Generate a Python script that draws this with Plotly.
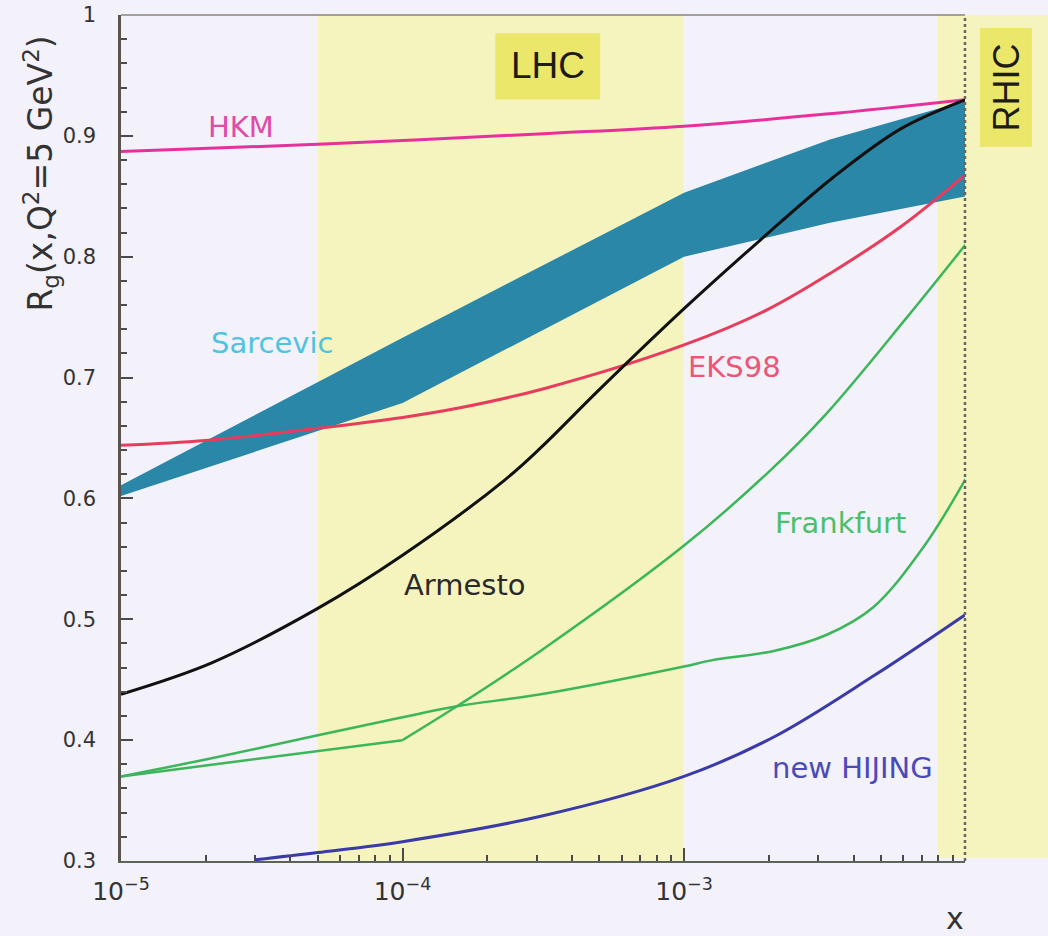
import numpy as np
import plotly.graph_objects as go

# ---- data: gluon shadowing ratio R_g(x, Q^2 = 5 GeV^2) ----
hkm_x = [1e-5, 5e-5, 3.3e-4, 1e-3, 3.2e-3, 1e-2]
hkm_y = [0.887, 0.893, 0.902, 0.908, 0.918, 0.930]

sarcevic_x = [1e-5, 1e-4, 1e-3, 3.3e-3, 1e-2]
sarcevic_hi = [0.611, 0.733, 0.853, 0.897, 0.929]
sarcevic_lo = [0.602, 0.679, 0.800, 0.828, 0.850]

eks98_x = [1e-5, 2e-5, 5e-5, 1e-4, 1.6e-4, 3.2e-4, 1e-3, 1.97e-3, 3.4e-3, 5.9e-3, 1e-2]
eks98_y = [0.644, 0.648, 0.658, 0.667, 0.675, 0.691, 0.727, 0.756, 0.788, 0.825, 0.868]

armesto_x = [1e-5, 2.1e-5, 5e-5, 1e-4, 2.3e-4, 3.1e-4, 5e-4, 1e-3, 1.87e-3, 3.4e-3, 5.9e-3, 1e-2]
armesto_y = [0.438, 0.464, 0.509, 0.553, 0.615, 0.642, 0.690, 0.757, 0.814, 0.866, 0.906, 0.930]

frank_a_x = [1e-5, 1e-4, 1.56e-4, 3.1e-4, 1e-3, 2e-3, 3.2e-3, 6.2e-3, 1e-2]
frank_a_y = [0.370, 0.400, 0.428, 0.474, 0.561, 0.622, 0.670, 0.750, 0.810]

frank_b_x = [1e-5, 2.1e-5, 5e-5, 1e-4, 1.56e-4, 3.1e-4, 1e-3, 1.25e-3, 2.1e-3,
             3.2e-3, 4.7e-3, 7.1e-3, 1e-2]
frank_b_y = [0.370, 0.385, 0.404, 0.419, 0.428, 0.438, 0.461, 0.466, 0.474,
             0.487, 0.510, 0.560, 0.616]

hijing_x = [3.0e-5, 5e-5, 1e-4, 3.1e-4, 1e-3, 2.1e-3, 4.7e-3, 1e-2]
hijing_y = [0.301, 0.307, 0.316, 0.337, 0.370, 0.403, 0.453, 0.504]

# kinematic windows
lhc_range = [5e-5, 1e-3]
rhic_start = 8e-3

# ---- styling ----
BG = "#f3f1fa"
BAND = "#f5f4be"
BOX = "#ebe76a"
LOGX = (-5, -2)
FONT = "DejaVu Sans"
INK = "#333333"


def xfrac(v):
    return (np.log10(v) - LOGX[0]) / (LOGX[1] - LOGX[0])


fig = go.Figure()

# Sarcevic band
fig.add_trace(go.Scatter(
    x=sarcevic_x + sarcevic_x[::-1],
    y=sarcevic_hi + sarcevic_lo[::-1],
    fill="toself", fillcolor="#2a87a8", mode="lines",
    line=dict(width=0, color="#2a87a8"), hoverinfo="skip", showlegend=False))

curves = [
    (hkm_x, hkm_y, "#e8309c", 3),
    (eks98_x, eks98_y, "#e83c5c", 3),
    (armesto_x, armesto_y, "#111111", 3),
    (frank_a_x[:2], frank_a_y[:2], "#3cb65a", 2.5),
    (frank_a_x[1:], frank_a_y[1:], "#3cb65a", 2.5),
    (frank_b_x, frank_b_y, "#3cb65a", 2.5),
    (hijing_x, hijing_y, "#3a3aa8", 3),
]
for cx, cy, col, w in curves:
    fig.add_trace(go.Scatter(
        x=cx, y=cy, mode="lines",
        line=dict(color=col, width=w, shape="spline", smoothing=1.0),
        showlegend=False, hoverinfo="skip"))

shapes = [
    # LHC window
    dict(type="rect", xref="paper", yref="paper",
         x0=xfrac(lhc_range[0]), x1=xfrac(lhc_range[1]), y0=0, y1=1,
         fillcolor=BAND, line=dict(width=0), layer="below"),
    # RHIC window (continues past the frame)
    dict(type="rect", xref="paper", yref="paper",
         x0=xfrac(rhic_start), x1=1.2, y0=0.0035, y1=1,
         fillcolor=BAND, line=dict(width=0), layer="below"),
    # label boxes
    dict(type="rect", xref="paper", yref="y",
         x0=xfrac(2.14e-4), x1=xfrac(5.05e-4), y0=0.930, y1=0.985,
         fillcolor=BOX, line=dict(width=0), layer="below"),
    dict(type="rect", xref="paper", yref="paper",
         x0=1.0178, x1=1.0793, y0=0.844, y1=0.9846,
         fillcolor=BOX, line=dict(width=0), layer="below"),
    # frame: top and right
    dict(type="line", xref="paper", yref="paper", x0=0, x1=1, y0=1, y1=1,
         line=dict(color="#8a857e", width=1.5), layer="above"),
    dict(type="line", xref="paper", yref="paper", x0=1, x1=1, y0=0, y1=1,
         line=dict(color="#6a655c", width=2.5, dash="dot"), layer="above"),
]

labels = [
    ("HKM", 2.66e-5, 0.907, "#e04aa8"),
    ("Sarcevic", 3.44e-5, 0.729, "#4fc3e0"),
    ("EKS98", 1.51e-3, 0.709, "#ee5577"),
    ("Armesto", 1.67e-4, 0.528, "#2a2a2a"),
    ("Frankfurt", 3.6e-3, 0.580, "#4cbf6a"),
    ("new HIJING", 3.97e-3, 0.377, "#4a4ab8"),
]
annotations = []
for txt, lx, ly, col in labels:
    annotations.append(dict(
        text=txt, x=np.log10(lx), y=ly, xref="x", yref="y", showarrow=False,
        xanchor="center", yanchor="middle",
        font=dict(family=FONT, size=29, color=col)))

annotations += [
    dict(text="LHC", x=np.log10(3.3e-4), y=0.958, xref="x", yref="y",
         showarrow=False, xanchor="center", yanchor="middle",
         font=dict(family="Liberation Sans", size=37, color="#1e1a14")),
    dict(text="RHIC", x=1.0486, y=0.9143, xref="paper", yref="paper",
         showarrow=False, textangle=-90, xanchor="center", yanchor="middle",
         font=dict(family="Liberation Sans", size=36, color="#1e1a14")),
    dict(text="R<sub>g</sub>(x,Q<sup>2</sup>=5 GeV<sup>2</sup>)",
         x=-0.0953, y=0.812, xref="paper", yref="paper", showarrow=False,
         textangle=-90, xanchor="center", yanchor="middle",
         font=dict(family=FONT, size=33, color=INK)),
    dict(text="x", x=0.988, y=-0.068, xref="paper", yref="paper",
         showarrow=False, xanchor="center", yanchor="middle",
         font=dict(family=FONT, size=30, color=INK)),
]

fig.update_layout(
    template="none",
    width=1048, height=936,
    margin=dict(l=121, r=83, t=15, b=75, autoexpand=False),
    paper_bgcolor=BG, plot_bgcolor=BG,
    showlegend=False,
    shapes=shapes, annotations=annotations,
    xaxis=dict(
        type="log", range=[LOGX[0], LOGX[1] - 0.002], automargin=False,
        showgrid=False, zeroline=False,
        showline=True, linecolor="#5b6458", linewidth=2,
        ticks="inside", ticklen=13, tickwidth=1.5, tickcolor="#4a4a4a",
        tickmode="linear", tick0=0, dtick=1,
        exponentformat="power", showexponent="all", ticklabelstandoff=8,
        tickfont=dict(family=FONT, size=20, color=INK),
        minor=dict(dtick="D1", ticks="inside", ticklen=6,
                   tickwidth=1.5, tickcolor="#4a4a4a", showgrid=False),
    ),
    yaxis=dict(
        range=[0.3, 1.0], automargin=False, showgrid=False, zeroline=False,
        showline=True, linecolor="#5a544e", linewidth=2.5,
        ticks="inside", ticklen=12, tickwidth=2, tickcolor="#4a4a4a",
        tickmode="linear", tick0=0.3, dtick=0.1, ticklabelstandoff=18,
        tickfont=dict(family=FONT, size=21, color=INK),
        minor=dict(dtick=0.02, tick0=0.3, ticks="inside", ticklen=6,
                   tickwidth=2, tickcolor="#4a4a4a", showgrid=False),
    ),
)

fig.write_html("out.html")
